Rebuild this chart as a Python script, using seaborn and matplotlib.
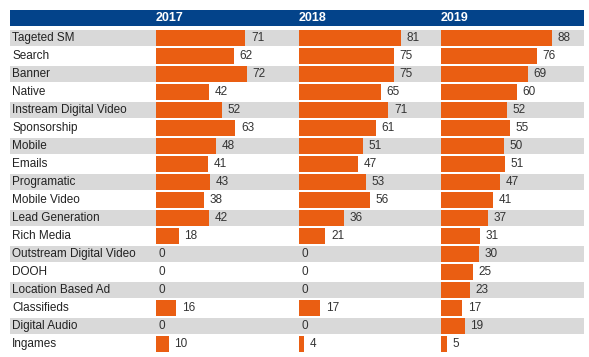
import matplotlib
matplotlib.use("Agg")
import matplotlib.pyplot as plt
import seaborn as sns
import pandas as pd

# Данные
categories = ['Tageted SM', 'Search', 'Banner', 'Native', 'Instream Digital Video',
              'Sponsorship', 'Mobile', 'Emails', 'Programatic', 'Mobile Video',
              'Lead Generation', 'Rich Media', 'Outstream Digital Video', 'DOOH',
              'Location Based Ad', 'Classifieds', 'Digital Audio', 'Ingames']
years = ['2017', '2018', '2019']
values_2017 = [71, 62, 72, 42, 52, 63, 48, 41, 43, 38, 42, 18, 0, 0, 0, 16, 0, 10]
values_2018 = [81, 75, 75, 65, 71, 61, 51, 47, 53, 56, 36, 21, 0, 0, 0, 17, 0, 4]
values_2019 = [88, 76, 69, 60, 52, 55, 50, 51, 47, 41, 37, 31, 30, 25, 23, 17, 19, 5]
all_values = [values_2017, values_2018, values_2019]

sns.set_theme(style='white')
plt.rcParams['font.family'] = ['Liberation Sans', 'DejaVu Sans']

W, H = 589, 357
orange = '#ea5e12'
blue = '#03438a'
grey = '#d9d9d9'
fs = 8.5

fig = plt.figure(figsize=(W / 100, H / 100), dpi=100)


def px_rect(x0, y0, x1, y1):
    # пиксели (сверху вниз) -> координаты фигуры
    return [x0 / W, 1 - y1 / H, (x1 - x0) / W, (y1 - y0) / H]


n = len(categories)
top, bottom = 29, 353

# фон: серые полосы через строку и подписи строк
bg = fig.add_axes(px_rect(10, top, 584, bottom))
bg.set_xlim(0, 1)
bg.set_ylim(n - 0.5, -0.5)
for i in range(n):
    if i % 2 == 0:
        bg.axhspan(i - 0.43, i + 0.43, color=grey, lw=0)
    bg.text(0.004, i, categories[i], va='center', ha='left', fontsize=fs, color='#222222')
bg.axis('off')

# шапка с годами
head = fig.add_axes(px_rect(10, 10, 584, 26))
head.set_facecolor(blue)
head.set_xticks([])
head.set_yticks([])
for s in head.spines.values():
    s.set_visible(False)

panel_left = [156, 299, 441]
panel_w = 143
xmax = panel_w / 1.26

for year, vals, x0 in zip(years, all_values, panel_left):
    fig.text(x0 / W, 1 - 18 / H, year, color='white', fontweight='bold',
             fontsize=fs + 0.5, va='center', ha='left')
    ax = fig.add_axes(px_rect(x0, top, x0 + panel_w, bottom))
    df = pd.DataFrame({'category': categories, 'value': vals})
    sns.barplot(data=df, x='value', y='category', ax=ax, color=orange,
                saturation=1, width=0.86, orient='h', linewidth=0, edgecolor='none')
    ax.set_xlim(0, xmax)
    ax.set_ylim(n - 0.5, -0.5)
    ax.patch.set_alpha(0)
    ax.axis('off')
    for i, v in enumerate(vals):
        off = 4 if v > 0 else 1.5
        ax.annotate(str(v), (v, i), xytext=(off, 0), textcoords='offset points',
                    va='center', ha='left', fontsize=fs, color='#333333')

fig.savefig('out.png', dpi=100)
